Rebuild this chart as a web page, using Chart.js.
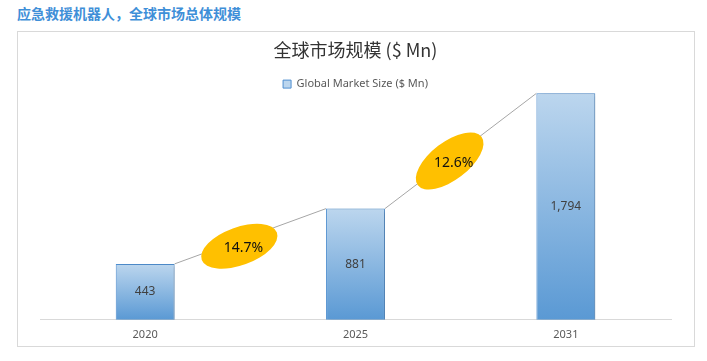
<!DOCTYPE html>
<html>
<head>
<meta charset="utf-8">
<script src="https://cdn.jsdelivr.net/npm/chart.js@4.4.0/dist/chart.umd.min.js"></script>
<style>
    body { margin: 0; background: #fff; width: 707px; height: 361px; overflow: hidden; font-family: "Noto Sans CJK SC", sans-serif; }
    #heading { position: absolute; left: 17px; top: 3px; font-size: 14px; font-weight: bold; color: #3f8fd8; line-height: 20px; white-space: nowrap; }
    #box { position: absolute; left: 17px; top: 31px; width: 676px; height: 314px; border: 1px solid #d9d9d9; }
</style>
</head>
<body>
<div id="heading">应急救援机器人，全球市场总体规模</div>
<div id="box"><canvas id="chart" width="676" height="314"></canvas></div>
<script>
// Chart data
const years = ['2020', '2025', '2031'];
const marketSize = [443, 881, 1794];
const growthRates = ['14.7%', '12.6%'];
const chartTitle = '全球市场规模 ($ Mn)';
const seriesName = 'Global Market Size ($ Mn)';

const latinFont = '"Noto Sans", "Noto Sans CJK SC", sans-serif';

/**
 * Vertical gradient for each bar, light at the top, blue at the base
 */
function barFill(context) {
    const chart = context.chart;
    if (!chart.chartArea || context.raw === undefined) return '#8db4e2';
    const yScale = chart.scales.y;
    const top = yScale.getPixelForValue(context.raw);
    const bottom = yScale.getPixelForValue(0);
    const g = chart.ctx.createLinearGradient(0, top, 0, bottom);
    g.addColorStop(0, '#bcd6ee');
    g.addColorStop(1, '#5a99d4');
    return g;
}

// Tighten the gap under the legend
const legendGap = {
    id: 'legendGap',
    beforeInit(chart) {
        const originalFit = chart.legend.fit;
        chart.legend.fit = function () {
            originalFit.bind(chart.legend)();
            this.height -= 7;
        };
    }
};

// Soft shadow to the right of the bars
const barShadow = {
    id: 'barShadow',
    beforeDatasetsDraw(chart) {
        const ctx = chart.ctx;
        ctx.save();
        ctx.shadowColor = 'rgba(0, 0, 0, 0.18)';
        ctx.shadowOffsetX = 3;
        ctx.shadowOffsetY = 1;
        ctx.shadowBlur = 4;
    },
    afterDatasetsDraw(chart) {
        chart.ctx.restore();
    }
};

// Values inside bars, connector lines and growth ellipses
const annotations = {
    id: 'annotations',
    afterDatasetsDraw(chart) {
        const ctx = chart.ctx;
        const bars = chart.getDatasetMeta(0).data;

        // value labels
        ctx.save();
        ctx.font = '12px ' + latinFont;
        ctx.fillStyle = '#404040';
        ctx.textAlign = 'center';
        ctx.textBaseline = 'middle';
        bars.forEach((bar, i) => {
            ctx.fillText(marketSize[i].toLocaleString('en-US'), bar.x, (bar.y + bar.base) / 2);
        });
        ctx.restore();

        // connectors + ellipses
        for (let i = 0; i < bars.length - 1; i++) {
            const a = bars[i];
            const b = bars[i + 1];
            const x1 = a.x + a.width / 2, y1 = a.y;
            const x2 = b.x - b.width / 2, y2 = b.y;

            ctx.save();
            ctx.strokeStyle = '#a6a6a6';
            ctx.lineWidth = 1;
            ctx.beginPath();
            ctx.moveTo(x1, y1);
            ctx.lineTo(x2, y2);
            ctx.stroke();

            const angle = Math.atan2(y2 - y1, x2 - x1);
            const cx = (x1 + x2) / 2 - 11;
            const cy = (y1 + y2) / 2 + 10;
            ctx.fillStyle = '#ffc000';
            ctx.beginPath();
            ctx.ellipse(cx, cy, 40, 19, angle, 0, Math.PI * 2);
            ctx.fill();

            ctx.font = '14px ' + latinFont;
            ctx.fillStyle = '#111';
            ctx.textAlign = 'center';
            ctx.textBaseline = 'middle';
            ctx.fillText(growthRates[i], cx + 4, cy + 2);
            ctx.restore();
        }
    }
};

const chart = new Chart(document.getElementById('chart').getContext('2d'), {
    type: 'bar',
    data: {
        labels: years,
        datasets: [{
            label: seriesName,
            data: marketSize,
            backgroundColor: barFill,
            borderColor: '#4f8fd0',
            borderWidth: 1,
            barPercentage: 0.28,
            categoryPercentage: 1,
            clip: false
        }]
    },
    options: {
        responsive: false,
        animation: false,
        devicePixelRatio: 1,
        layout: {
            padding: { top: 7, left: 22, right: 23, bottom: -3 }
        },
        scales: {
            x: {
                grid: { display: false, drawTicks: false },
                border: { color: '#d9d9d9', width: 1 },
                ticks: {
                    color: '#595959',
                    padding: 8,
                    font: { size: 11, family: latinFont }
                }
            },
            y: {
                display: false,
                min: 0,
                max: 1800
            }
        },
        plugins: {
            title: {
                display: true,
                text: chartTitle,
                color: '#333',
                font: { size: 18, weight: 'normal', family: '"Noto Sans CJK SC", sans-serif' },
                padding: { top: 0, bottom: 8 }
            },
            legend: {
                display: true,
                labels: {
                    boxWidth: 8,
                    boxHeight: 8,
                    padding: 10,
                    color: '#595959',
                    font: { size: 11, family: latinFont }
                }
            },
            tooltip: { enabled: false }
        }
    },
    plugins: [legendGap, barShadow, annotations]
});
</script>
</body>
</html>
